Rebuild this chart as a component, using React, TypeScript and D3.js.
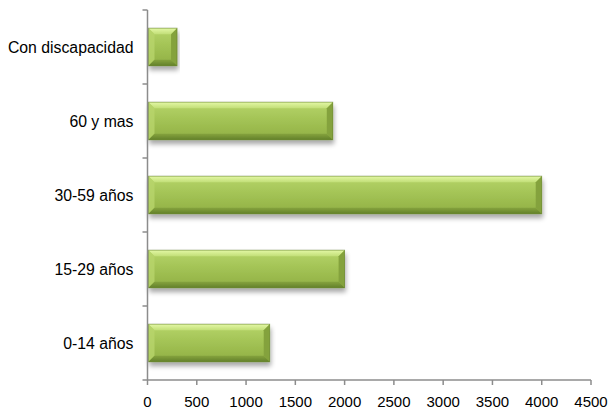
import React from "react";
import * as d3 from "d3";

// Population groups, drawn bottom to top
const categories = ["0-14 años", "15-29 años", "30-59 años", "60 y mas", "Con discapacidad"];
const values = [1240, 2000, 4000, 1880, 300];
const xTicks = [0, 500, 1000, 1500, 2000, 2500, 3000, 3500, 4000, 4500];

const W = 610;
const H = 411;
const left = 147.5;
const right = 591;
const top = 10;
const bottom = 380;

export default function App() {
  const x = d3.scaleLinear().domain([0, 4500]).range([left, right]);
  // top-most category first in the band order
  const order = [...categories].reverse();
  const y = d3.scaleBand().domain(order).range([top, bottom]).paddingInner(0.49).paddingOuter(0.245);
  const bandEdges = d3.range(order.length + 1).map((i) => top + (i * (bottom - top)) / order.length);
  const font = "'Liberation Sans', Arial, sans-serif";
  const bev = 6;

  return (
    <div style={{ position: "fixed", left: 0, top: 0 }}>
      <svg width={W} height={H} style={{ display: "block", background: "#fff" }}>
        <defs>
          <linearGradient id="barFace" x1="0" y1="0" x2="0" y2="1">
            <stop offset="0" stopColor="#b6d56a" />
            <stop offset="0.5" stopColor="#a2c254" />
            <stop offset="1" stopColor="#90af44" />
          </linearGradient>
          <linearGradient id="barTop" x1="0" y1="0" x2="0" y2="1">
            <stop offset="0" stopColor="#e4f8a6" />
            <stop offset="1" stopColor="#c2df78" />
          </linearGradient>
          <linearGradient id="barBottom" x1="0" y1="0" x2="0" y2="1">
            <stop offset="0" stopColor="#84a23d" />
            <stop offset="1" stopColor="#62802a" />
          </linearGradient>
          <filter id="shadow" x="-10%" y="-30%" width="120%" height="180%">
            <feGaussianBlur in="SourceAlpha" stdDeviation="2.5" />
            <feOffset dx="1" dy="4" result="b" />
            <feComponentTransfer>
              <feFuncA type="linear" slope="0.35" />
            </feComponentTransfer>
            <feMerge>
              <feMergeNode />
              <feMergeNode in="SourceGraphic" />
            </feMerge>
          </filter>
        </defs>

        {/* bars with bevelled edges */}
        {categories.map((c, i) => {
          const x0 = x(0) + 1;
          const x1 = x(values[i]);
          const y0 = y(c)!;
          const h = y.bandwidth();
          const y1 = y0 + h;
          return (
            <g key={c} filter="url(#shadow)">
              <rect x={x0} y={y0} width={x1 - x0} height={h} fill="url(#barFace)" />
              <polygon
                points={`${x0},${y0} ${x1},${y0} ${x1 - bev},${y0 + bev} ${x0 + bev},${y0 + bev}`}
                fill="url(#barTop)"
              />
              <polygon
                points={`${x0},${y0} ${x0 + bev},${y0 + bev} ${x0 + bev},${y1 - bev} ${x0},${y1}`}
                fill="#b8d56c"
                opacity={0.8}
              />
              <polygon
                points={`${x1},${y0} ${x1},${y1} ${x1 - bev},${y1 - bev} ${x1 - bev},${y0 + bev}`}
                fill="#84a23c"
              />
              <polygon
                points={`${x0},${y1} ${x0 + bev},${y1 - bev} ${x1 - bev},${y1 - bev} ${x1},${y1}`}
                fill="url(#barBottom)"
              />
              <rect x={x0} y={y0} width={x1 - x0} height={h} fill="none" stroke="#5a7623" strokeWidth={0.8} strokeOpacity={0.6} />
            </g>
          );
        })}

        {/* category axis */}
        <line x1={left} x2={left} y1={top} y2={bottom} stroke="#8c8c8c" strokeWidth={1.5} />
        {bandEdges.map((v, i) => (
          <line key={i} x1={left - 5} x2={left} y1={v} y2={v} stroke="#8c8c8c" strokeWidth={1.5} />
        ))}
        {categories.map((c) => (
          <text
            key={c}
            x={left - 14}
            y={y(c)! + y.bandwidth() / 2}
            textAnchor="end"
            dominantBaseline="central"
            fontFamily={font}
            fontSize={15.8}
            fill="#000"
          >
            {c}
          </text>
        ))}

        {/* value axis */}
        <line x1={left} x2={right} y1={bottom} y2={bottom} stroke="#8c8c8c" strokeWidth={1.5} />
        {xTicks.map((t) => (
          <g key={t}>
            <line x1={x(t)} x2={x(t)} y1={bottom} y2={bottom + 5} stroke="#8c8c8c" strokeWidth={1.5} />
            <text
              x={x(t)}
              y={401.5}
              textAnchor="middle"
              dominantBaseline="central"
              fontFamily={font}
              fontSize={15}
              fill="#000"
            >
              {t}
            </text>
          </g>
        ))}
      </svg>
    </div>
  );
}
